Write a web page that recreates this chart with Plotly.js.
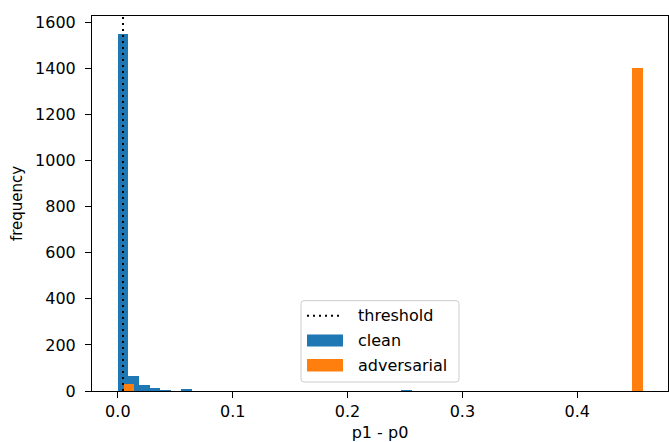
<!DOCTYPE html>
<html>
<head>
<meta charset="utf-8">
<script src="https://cdn.plot.ly/plotly-3.0.1.min.js"></script>
<style>html,body{margin:0;padding:0;background:#fff}#chart{width:669px;height:442px}</style>
</head>
<body>
<div id="chart"></div>
<script>
// ---- data ----
const cleanBinCenters = [0.0046, 0.0138, 0.0230, 0.0322, 0.0414, 0.0598, 0.2513];
const cleanCounts     = [1550,   65,     25,     12,     6,      7,      6];
const advBinCenters   = [0.0095, 0.4525];
const advCounts       = [30,     1400];
const cleanBinWidth = 0.0092;
const advBinWidth = 0.00904;
const threshold = 0.0045;
const xTickVals = [0.0, 0.1, 0.2, 0.3, 0.4];
const yTickVals = [0, 200, 400, 600, 800, 1000, 1200, 1400, 1600];
const legendLabels = ['threshold', 'clean', 'adversarial'];

// ---- layout helpers (pixel -> paper) ----
const L = 92, R = 1, T = 16, B = 51, W = 669, H = 442;
const PW = W - L - R, PH = H - T - B;
const px = X => (X - L) / PW;
const py = Y => (H - B - Y) / PH;
const FONT = 'DejaVu Sans, sans-serif';
const BLUE = '#1f77b4', ORANGE = '#ff7f0e';

const traces = [
  {type: 'bar', x: cleanBinCenters, y: cleanCounts, width: cleanBinWidth,
   marker: {color: BLUE, line: {width: 0}}, name: 'clean', showlegend: false, hoverinfo: 'x+y'},
  {type: 'bar', x: advBinCenters, y: advCounts, width: advBinWidth,
   marker: {color: ORANGE, line: {width: 0}}, name: 'adversarial', showlegend: false, hoverinfo: 'x+y'}
];

function roundRect(x0, y0, x1, y1, r) {
  const rx = r / PW, ry = r / PH;
  const a = px(x0), b = px(x1), top = py(y0), bot = py(y1);
  return `M ${a + rx},${bot} L ${b - rx},${bot} Q ${b},${bot} ${b},${bot + ry} L ${b},${top - ry} Q ${b},${top} ${b - rx},${top} L ${a + rx},${top} Q ${a},${top} ${a},${top - ry} L ${a},${bot + ry} Q ${a},${bot} ${a + rx},${bot} Z`;
}

const shapes = [
  {type: 'line', xref: 'x', yref: 'paper', x0: threshold, x1: threshold, y0: 0, y1: 1,
   line: {color: '#000', width: 2, dash: '2px,4px'}, layer: 'above'},
  {type: 'path', xref: 'paper', yref: 'paper', path: roundRect(301, 300.7, 459, 382, 3),
   line: {color: '#cccccc', width: 1}, fillcolor: 'rgba(255,255,255,0.8)', layer: 'above'},
  {type: 'line', xref: 'paper', yref: 'paper', x0: px(307), x1: px(343), y0: py(315.7), y1: py(315.7),
   line: {color: '#000', width: 2, dash: '2px,4px'}, layer: 'above'},
  {type: 'rect', xref: 'paper', yref: 'paper', x0: px(307), x1: px(343), y0: py(346.5), y1: py(334.5),
   fillcolor: BLUE, line: {width: 0}, layer: 'above'},
  {type: 'rect', xref: 'paper', yref: 'paper', x0: px(307), x1: px(343), y0: py(371.5), y1: py(359),
   fillcolor: ORANGE, line: {width: 0}, layer: 'above'}
];

const legendY = [315.7, 340.5, 365.3];
const annotations = legendLabels.map((t, i) => ({
  text: t, xref: 'paper', yref: 'paper', x: px(356), y: py(legendY[i]),
  xanchor: 'left', yanchor: 'middle', showarrow: false,
  font: {family: FONT, size: 16, color: '#000'}
}));

const axisCommon = {
  showline: true, linecolor: '#000', linewidth: 1, mirror: true,
  ticks: 'outside', ticklen: 6, tickwidth: 1, tickcolor: '#000',
  showgrid: false, zeroline: false,
  tickfont: {family: FONT, size: 16, color: '#000'}
};

const layout = {
  width: W, height: H,
  margin: {l: L, r: R, t: T, b: B, pad: 0},
  paper_bgcolor: '#fff', plot_bgcolor: '#fff',
  barmode: 'overlay', bargap: 0,
  showlegend: false,
  font: {family: FONT, size: 16, color: '#000'},
  xaxis: Object.assign({}, axisCommon, {
    range: [-0.0225, 0.479], tickvals: xTickVals, tickformat: '.1f',
    title: {text: 'p1 - p0', font: {family: FONT, size: 16, color: '#000'}, standoff: 6}
  }),
  yaxis: Object.assign({}, axisCommon, {
    range: [0, 1627.5], tickvals: yTickVals, tickformat: 'd', ticklabelstandoff: 6,
    title: {text: 'frequency', font: {family: FONT, size: 15, color: '#000'}, standoff: 8}
  }),
  shapes: shapes,
  annotations: annotations
};

Plotly.newPlot('chart', traces, layout, {displayModeBar: false, staticPlot: true});
</script>
</body>
</html>
